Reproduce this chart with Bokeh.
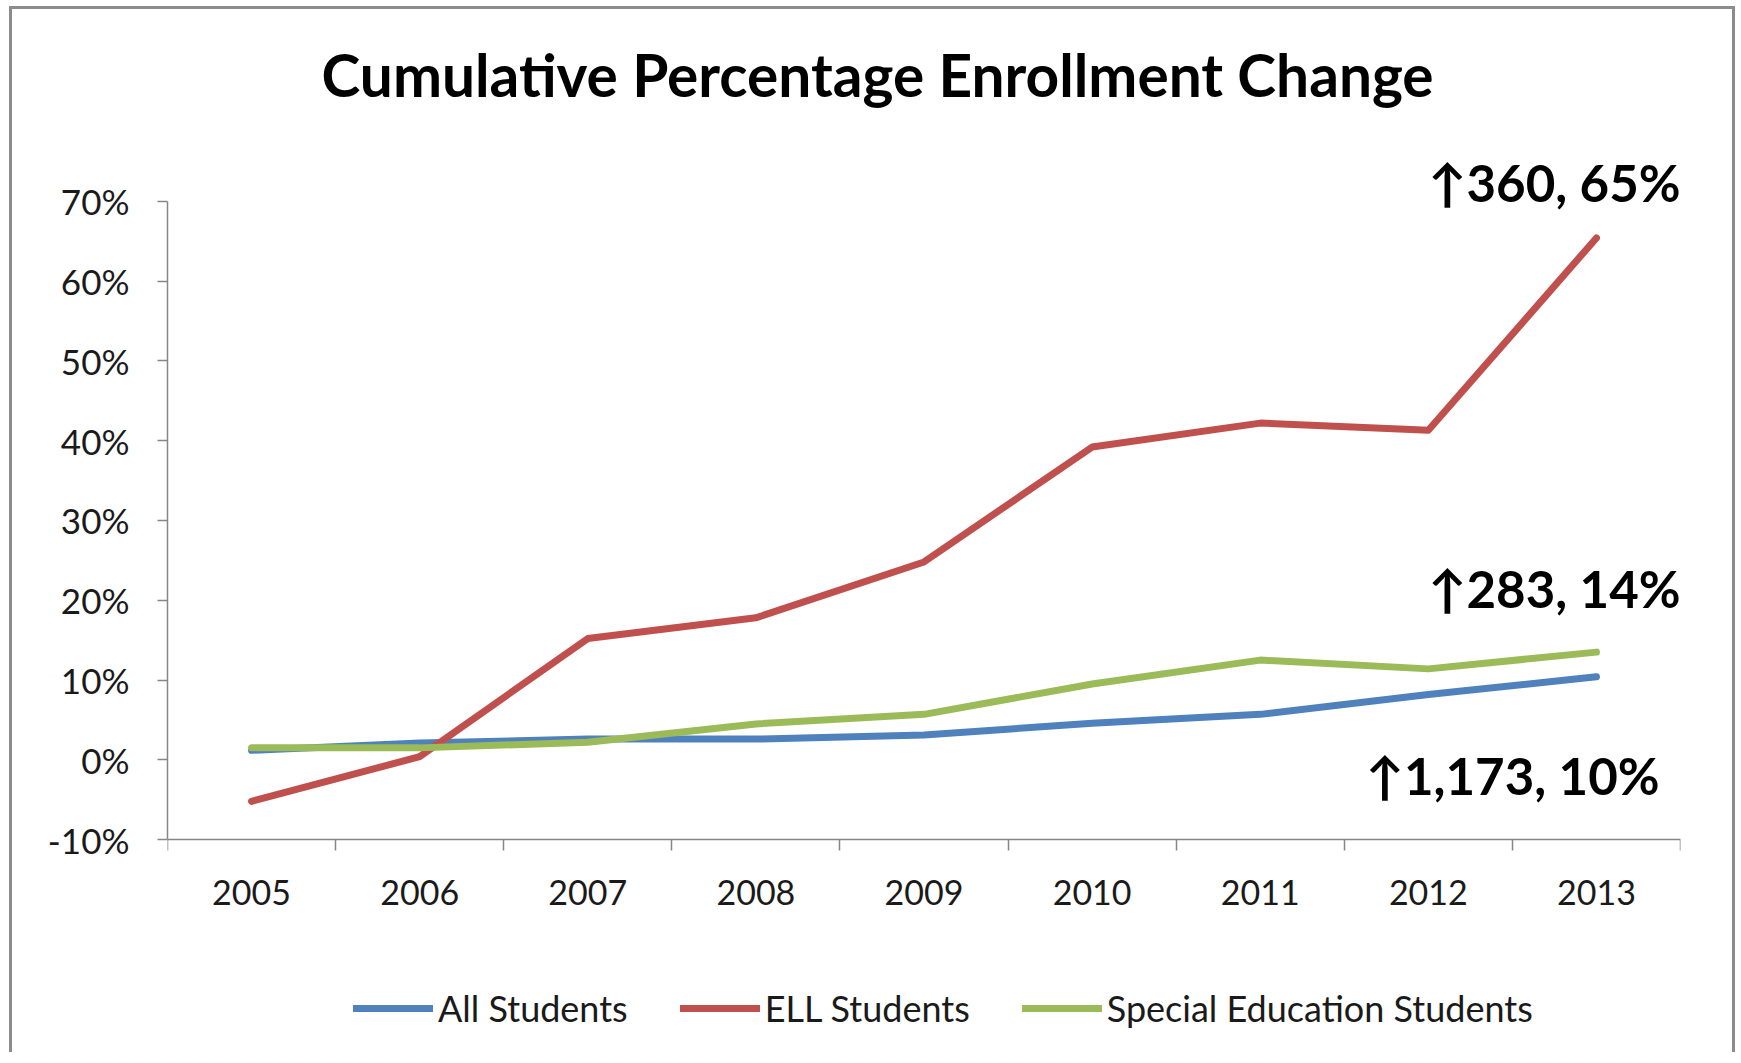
from bokeh.plotting import figure
from bokeh.models import (Range1d, FactorRange, LinearAxis, CategoricalAxis, FixedTicker,
                          Legend, LegendItem, Label)
from bokeh.embed import file_html
from bokeh.resources import INLINE

# ---- data ----
years = ["2005", "2006", "2007", "2008", "2009", "2010", "2011", "2012", "2013"]
all_students = [1.2, 2.1, 2.6, 2.6, 3.1, 4.6, 5.7, 8.2, 10.4]
ell_students = [-5.2, 0.4, 15.2, 17.8, 24.8, 39.2, 42.2, 41.3, 65.4]
sped_students = [1.5, 1.5, 2.2, 4.5, 5.7, 9.5, 12.5, 11.4, 13.5]
series_names = ["All Students", "ELL Students", "Special Education Students"]
y_ticks = [-10, 0, 10, 20, 30, 40, 50, 60, 70]
y_tick_labels = ["-10%", "0%", "10%", "20%", "30%", "40%", "50%", "60%", "70%"]
end_labels = ["\u2191360, 65%", "\u2191283, 14%", "\u21911,173, 10%"]
end_label_y = [72.3, 21.5, -1.9]

title_text = "Cumulative Percentage Enrollment Change"

FONT = "Lato"
AXIS_GREY = "#868686"
TEXT = "#1a1a1a"
colors = ["#4F81BD", "#C0504D", "#9BBB59"]

p = figure(width=1726, height=1046,
           x_range=FactorRange(*years, range_padding=0),
           y_range=Range1d(-36.3, 81.0),
           output_backend="svg", toolbar_location=None,
           x_axis_location=None, y_axis_location="left",
           min_border_left=155, min_border_right=58,
           min_border_top=104, min_border_bottom=6)
p.styles = {"border-left": "3px solid #8c8c8c", "border-top": "3px solid #8c8c8c",
            "border-right": "3px solid #8c8c8c",
            "margin-left": "9px", "margin-top": "6px"}
p.grid.visible = False
p.outline_line_color = None
p.background_fill_color = "white"
p.border_fill_color = "white"

# title
p.title.text = title_text
p.title.align = "left"
p.title.offset = 154
p.title.text_font = FONT
p.title.text_font_style = "bold"
p.title.text_font_size = "58.6px"
p.title.text_color = "#000000"

# y axis
ya = p.yaxis[0]
ya.ticker = FixedTicker(ticks=y_ticks)
ya.major_label_overrides = dict(zip(y_ticks, y_tick_labels))
ya.bounds = (y_ticks[0], y_ticks[-1])
ya.axis_line_color = AXIS_GREY
ya.axis_line_width = 1.5
ya.major_tick_line_color = AXIS_GREY
ya.major_tick_line_width = 1.5
ya.major_tick_out = 10
ya.major_tick_in = 0
ya.minor_tick_line_color = None
ya.major_label_text_font = FONT
ya.major_label_text_font_size = "35px"
ya.major_label_text_color = TEXT
ya.major_label_standoff = 28

# x axis at y = -10: boundary ticks (between categories) + category labels
bnd_ticks = list(range(len(years) + 1))
bax = LinearAxis(ticker=FixedTicker(ticks=bnd_ticks), fixed_location=y_ticks[0],
                 major_label_overrides={t: "" for t in bnd_ticks},
                 major_label_text_font_size="0px", major_label_standoff=0,
                 major_tick_out=11, major_tick_in=0, minor_tick_line_color=None,
                 axis_line_color=AXIS_GREY, axis_line_width=1.5,
                 major_tick_line_color=AXIS_GREY, major_tick_line_width=1.5)
p.add_layout(bax, "below")
cax = CategoricalAxis(fixed_location=y_ticks[0],
                      axis_line_color=None, major_tick_line_color=None,
                      minor_tick_line_color=None, major_tick_out=0, major_tick_in=0,
                      major_label_text_font=FONT, major_label_text_font_size="34px",
                      major_label_text_color=TEXT, major_label_standoff=40)
p.add_layout(cax, "below")

# lines
renderers = []
for vals, col in zip([all_students, ell_students, sped_students], colors):
    r = p.line(years, vals, line_color=col, line_width=7,
               line_join="round", line_cap="round")
    renderers.append(r)

# end annotations
end_x = [1513, 1513, 1492]
for txt, yy, xx in zip(end_labels, end_label_y, end_x):
    p.add_layout(Label(x=xx, x_units="screen", y=yy, y_units="data", text=txt,
                       text_align="right", text_baseline="middle",
                       text_font=FONT, text_font_style="bold",
                       text_font_size="51px", text_color="#000000"))

legend = Legend(items=[LegendItem(label=n, renderers=[r]) for n, r in zip(series_names, renderers)],
                orientation="horizontal", location=(186, 19),
                border_line_color=None, background_fill_alpha=0,
                glyph_width=80, glyph_height=20, label_standoff=5, spacing=52,
                padding=0, margin=0,
                label_text_font=FONT, label_text_font_size="36px",
                label_text_color=TEXT)
p.add_layout(legend, "center")

open("out.html", "w").write(file_html(p, INLINE))
